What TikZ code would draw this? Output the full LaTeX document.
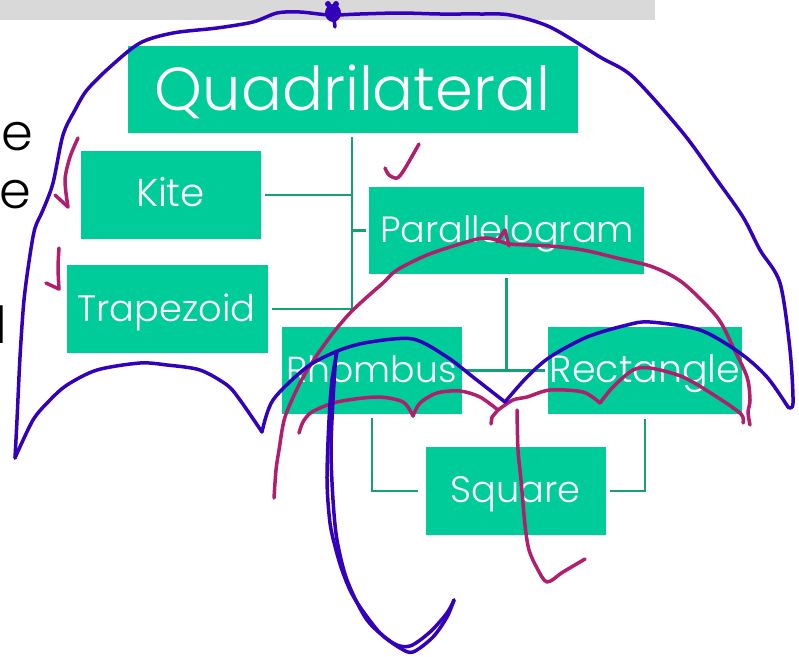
\documentclass[tikz,border=0pt]{standalone}
\usepackage{fontspec}
\setmainfont{Poppins Light}
\usepackage{graphicx}
\definecolor{boxgreen}{RGB}{0,204,153}
\definecolor{conngreen}{RGB}{22,160,118}
\definecolor{penblue}{RGB}{51,0,187}
\definecolor{penmag}{RGB}{178,30,110}
\definecolor{bargrey}{RGB}{217,217,217}
\begin{document}
\begin{tikzpicture}[x=1pt,y=-1pt,
  box/.style={fill=boxgreen, draw=none, inner sep=0pt},
  lbl/.style={text=white, anchor=base, inner sep=0pt},
  side/.style={text=black, anchor=base east, inner sep=0pt, font=\fontsize{51}{51}\selectfont},
  conn/.style={draw=conngreen, line width=2.6pt},
  bluepen/.style={draw=penblue, line width=3.5pt, line cap=round, line join=round},
  magpen/.style={draw=penmag, line width=3.5pt, line cap=round, line join=round}]
\useasboundingbox (0,0) rectangle (799,656);
\clip (0,0) rectangle (799,656);
\fill[white] (0,0) rectangle (799,656);
\fill[bargrey] (0,0) rectangle (655,20);

% cut-off slide text at the left edge
\node[side] (e1) at (33,150) {e};
\node[side] (e2) at (31,208) {e};
\node[side] (l1) at (7,343) {l};

% boxes
\node[box, minimum width=450pt, minimum height=87pt] (Q) at (353,89.5) {};
\node[box, minimum width=180pt, minimum height=88pt] (K) at (171,195) {};
\node[box, minimum width=201pt, minimum height=88pt] (T) at (167.5,309) {};
\node[box, minimum width=275pt, minimum height=87pt] (P) at (506.5,230.5) {};
\node[box, minimum width=180pt, minimum height=87pt] (Rh) at (372,370.5) {};
\node[box, minimum width=194pt, minimum height=87pt] (Re) at (645,370.5) {};
\node[box, minimum width=180pt, minimum height=88pt] (S) at (516,491) {};

% labels
\node[lbl] (Qt) at (352.5,110) {\resizebox{395pt}{!}{Quadrilateral}};
\node[lbl] (Kt) at (170.5,206) {\resizebox{69pt}{!}{Kite}};
\node[lbl] (Tt) at (166.5,321) {\resizebox{178pt}{!}{Trapezoid}};
\node[lbl] (Pt) at (507,242) {\resizebox{254pt}{!}{Parallelogram}};
\node[lbl] (Rht) at (371.5,382) {\resizebox{170pt}{!}{Rhombus}};
\node[lbl] (Ret) at (645,382) {\resizebox{190pt}{!}{Rectangle}};
\node[lbl] (St) at (515.5,502) {\resizebox{130pt}{!}{Square}};

% connectors
\coordinate (trk) at (352,0);
\draw[conn] ([yshift=-4pt]Q.south -| trk) -- (trk |- T.east);
\draw[conn] ([xshift=4pt]K.east) -- (K.east -| trk);
\draw[conn] ([xshift=4pt]T.east) -- (T.east -| trk);
\draw[conn] (P.west -| trk) -- ([xshift=-3pt]P.west);
\draw[conn] ([yshift=-4pt]P.south) -- (P.south |- Rh.east);
\draw[conn] ([xshift=3pt]Rh.east) -- ([xshift=-3pt]Re.west);
\draw[conn] ([yshift=-4pt]Rh.south) -- (Rh.south |- S.west) -- ([xshift=-8pt]S.west);
\draw[conn] ([yshift=-5pt]Re.south) -- (Re.south |- S.east) -- ([xshift=4pt]S.east);

% magenta ink
\draw[magpen] plot[smooth] coordinates {(78,138) (70,157) (65,180) (68,207)};
\draw[magpen] (55,195) -- (68,207);
\draw[magpen] plot[smooth] coordinates {(59,248) (58,268) (59,289)};
\draw[magpen] (46,283) -- (59,289);
\draw[magpen] plot[smooth] coordinates {(385,168) (389,175) (397,178) (404,170) (419,144)};
\draw[magpen] plot[smooth] coordinates {(274,498) (276,470) (279,450) (285,417) (300,383) (315,358) (333,333) (350,313) (367,297) (383,283) (397,270) (427,255) (463,243) (483,238) (497,240) (510,244) (550,246) (583,250) (617,258) (653,267) (683,283) (717,317) (733,347) (747,377) (750,400) (748,412) (750,425)};
\draw[magpen] (497,242) -- (505,230) -- (509,246);
\draw[magpen] plot[smooth] coordinates {(299,433) (303,422) (312,412) (337,402) (377,397) (403,402) (413,416)};
\draw[magpen] plot[smooth] coordinates {(413,416) (420,403) (437,393) (460,391) (480,397) (498,410)};
\draw[magpen] (498,410) -- (492,417) -- (491,424);
\draw[magpen] plot[smooth] coordinates {(498,410) (513,400) (527,397) (550,390) (583,392) (600,403)};
\draw[magpen] plot[smooth] coordinates {(600,403) (613,387) (633,370) (650,368) (683,377) (717,397) (741,414) (743,423)};
\draw[magpen] plot[smooth] coordinates {(517,410) (518,450) (521,480) (525,525) (529,550) (537,568) (547,582) (563,572) (585,559)};

% blue ink
\draw[bluepen] plot[smooth] coordinates {(15,458) (17,420) (20,357) (24,300) (30,255) (35,228) (43,210) (53,183) (63,135) (75,110) (87,90) (110,67) (140,43) (173,33) (217,28) (253,22) (277,13) (300,12) (330,15) (360,14) (400,13) (440,14) (480,14) (510,15) (550,27) (600,57) (633,77) (683,133) (717,180) (743,217) (760,250) (780,283) (790,350) (793,403) (788,407)};
\draw[bluepen] plot[smooth] coordinates {(788,407) (767,377) (740,353) (700,330) (650,322) (627,325) (587,337) (550,357) (527,377) (505,402)};
\draw[bluepen] plot[smooth] coordinates {(505,402) (473,377) (447,357) (413,339) (370,342) (340,350) (307,367) (273,400) (262,432)};
\draw[bluepen] plot[smooth] coordinates {(262,432) (240,400) (227,385) (200,370) (167,365) (140,363) (97,370) (67,385) (50,400) (33,420) (15,458)};
\fill[penblue] (333,13) ellipse (8pt and 9pt);
\fill[penblue] (328,4) circle (3pt);
\fill[penblue] (336,4) circle (3pt);
\draw[bluepen] (334,18) -- (335,27);
\draw[bluepen] plot[smooth] coordinates {(337,352) (332,380) (329,420) (327,480) (330,523) (336,550) (342,570) (350,590) (360,607) (380,633) (400,648) (413,652) (433,637) (447,617) (454,600)};
\draw[bluepen] plot[smooth] coordinates {(454,600) (447,613) (430,632) (410,646) (393,643) (367,620) (347,580) (337,540) (333,500) (331,450) (333,400) (336,352)};
\end{tikzpicture}
\end{document}
